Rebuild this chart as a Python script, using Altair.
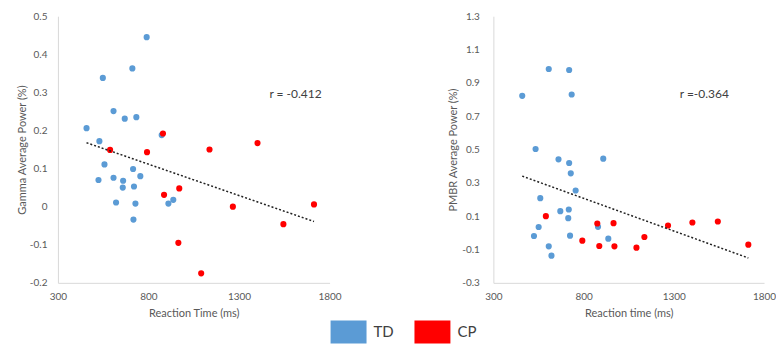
import altair as alt
import pandas as pd

groups = ["TD", "CP"]
group_colors = ["#5B9BD5", "#FF0000"]

x_ticks = [300, 800, 1300, 1800]

# Left panel: Gamma
gamma_td_rt = [458, 529, 548, 607, 669, 711, 733, 790, 873, 557, 524, 607, 660, 658, 715, 720, 755, 621, 728, 717, 910, 937]
gamma_td_pow = [0.206, 0.172, 0.338, 0.251, 0.231, 0.363, 0.235, 0.445, 0.188, 0.111, 0.070, 0.076, 0.068, 0.050, 0.099, 0.053, 0.080, 0.011, 0.008, -0.034, 0.008, 0.018]
gamma_cp_rt = [588, 792, 880, 886, 970, 965, 1137, 1091, 1266, 1402, 1545, 1714]
gamma_cp_pow = [0.149, 0.143, 0.192, 0.031, 0.048, -0.095, 0.150, -0.175, 0.000, 0.167, -0.046, 0.006]
gamma_ticks = [-0.2, -0.1, 0, 0.1, 0.2, 0.3, 0.4, 0.5]
gamma_r = "r = -0.412"

# Right panel: PMBR
pmbr_td_rt = [460, 607, 720, 734, 534, 661, 720, 729, 909, 756, 560, 671, 718, 715, 551, 525, 725, 607, 622, 880, 937]
pmbr_td_pow = [0.822, 0.983, 0.977, 0.830, 0.503, 0.441, 0.419, 0.357, 0.445, 0.254, 0.208, 0.130, 0.140, 0.088, 0.035, -0.019, -0.017, -0.081, -0.137, 0.036, -0.035]
pmbr_cp_rt = [591, 793, 876, 887, 966, 971, 1093, 1137, 1268, 1403, 1544, 1713]
pmbr_cp_pow = [0.100, -0.047, 0.056, -0.079, 0.058, -0.081, -0.089, -0.025, 0.044, 0.062, 0.068, -0.071]
pmbr_ticks = [-0.3, -0.1, 0.1, 0.3, 0.5, 0.7, 0.9, 1.1, 1.3]
pmbr_r = "r =-0.364"


def make_df(td_x, td_y, cp_x, cp_y):
    return pd.DataFrame({
        "rt": td_x + cp_x,
        "power": td_y + cp_y,
        "group": ["TD"] * len(td_x) + ["CP"] * len(cp_x),
    })


legend = alt.Legend(
    title=None, orient="none", legendX=273, legendY=298, direction="horizontal",
    symbolType="M-1,-0.64H1V0.64H-1Z", symbolSize=1296, symbolOpacity=1,
    symbolStrokeWidth=0, labelFontSize=15, labelOffset=7, columnPadding=20,
    labelColor="#404040", labelFont="Lato",
)


def panel(df, ytitle, yticks, xtitle, rtext, rx, ry, label_pad, title_pad, width):
    x = alt.X("rt:Q", scale=alt.Scale(domain=[300, 1800], nice=False, zero=False),
              axis=alt.Axis(values=x_ticks, tickCount=len(x_ticks) + 2, title=xtitle,
                            labelPadding=9, titlePadding=6,
                            labelExpr="'' + datum.value", labelFlush=False, labelOverlap=False))
    y = alt.Y("power:Q", scale=alt.Scale(domain=[yticks[0], yticks[-1]], nice=False, zero=False),
              axis=alt.Axis(values=yticks, tickCount=len(yticks) + 2, title=ytitle,
                            labelExpr="'' + datum.value",
                            labelFlush=False, labelOverlap=False,
                            labelPadding=label_pad, titlePadding=title_pad))
    base = alt.Chart(df)
    pts = base.mark_circle(size=38, opacity=1).encode(
        x=x, y=y,
        color=alt.Color("group:N", scale=alt.Scale(domain=groups, range=group_colors), legend=legend),
    )
    trend = base.transform_regression("rt", "power").mark_line(
        color="#222222", strokeDash=[2, 2], strokeWidth=1.5
    ).encode(x="rt:Q", y="power:Q")
    txt = alt.Chart(pd.DataFrame({"t": [rtext]})).mark_text(
        fontSize=12, font="Lato", color="#404040", align="center"
    ).encode(x=alt.datum(rx), y=alt.datum(ry), text="t:N")
    return alt.layer(pts, trend, txt).properties(width=width, height=267)


left = panel(make_df(gamma_td_rt, gamma_td_pow, gamma_cp_rt, gamma_cp_pow),
             "Gamma Average Power (%)", gamma_ticks, "Reaction Time (ms)",
             gamma_r, 1612, 0.297, 11, 2, 272)
right = panel(make_df(pmbr_td_rt, pmbr_td_pow, pmbr_cp_rt, pmbr_cp_pow),
              "PMBR Average Power (%)", pmbr_ticks, "Reaction time (ms)",
              pmbr_r, 1469, 0.836, 14, 3, 271)

chart = alt.hconcat(left, right, spacing=164, bounds="flush").properties(
    padding={"left": 16, "top": 11, "right": 0, "bottom": 0}
).configure_axis(
    domainColor="#d9d9d9", ticks=False, grid=False, labelColor="#595959",
    titleColor="#595959", labelFont="Lato", titleFont="Lato", labelFontSize=10,
    titleFontSize=11, titleFontWeight="normal",
).configure_view(stroke=None).configure_concat(spacing=164)

chart.save("out.html", embed_options={"renderer": "svg", "actions": False})
